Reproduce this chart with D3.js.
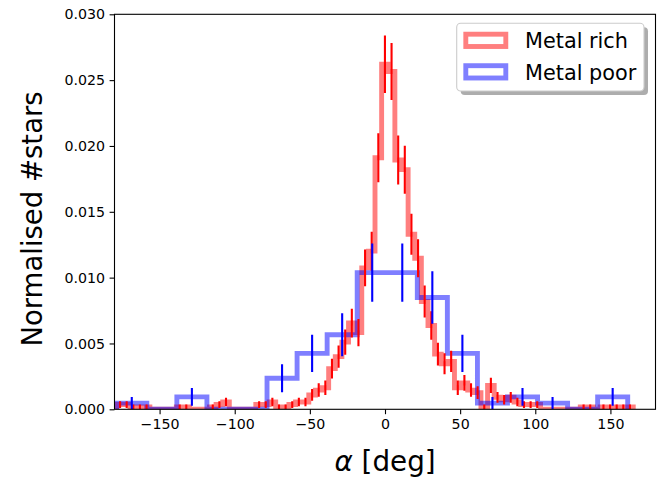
<!DOCTYPE html>
<html><head><meta charset="utf-8">
<script src="https://cdn.jsdelivr.net/npm/d3@7"></script>
<style>html,body{margin:0;padding:0;background:#fff;}svg{display:block;font-family:"DejaVu Sans",sans-serif;}</style>
</head><body>
<svg id="chart" width="670" height="479"></svg>
<script>
// ---- data ----
const redRange = [-178.5, 165.2];
const redValues = [0.00036,0.00036,0.00018,0.00018,0.00018,0,0,0,0,0.00018,0.00018,0,0,0,0.00018,0.00036,0.00055,0,0,0,0,
  0.00036,0.00036,0.00055,0.00018,0.00018,0.00036,0.00055,0.00055,0.00109,0.00146,0.00164,0.00309,0.00400,0.00510,0.00655,0.00582,0.01074,0.01201,0.01911,
  0.02621,0.02566,0.01893,0.01820,0.01329,0.01147,0.00819,0.00637,0.00419,0.00346,0.00364,0.00164,0.00200,0.00146,0.00127,0.00018,0.00182,0.00091,0.00073,0.00091,0.00055,0.00036,0.00036,0.00036,
  0,0,0,0,0,0,0.00018,0.00018,0,0.00018,0.00018,0.00018,0.00018,0.00018];
const redErrors = [0.00026,0.00026,0.00018,0.00018,0.00018,0,0,0,0,0.00018,0.00018,0,0,0,0.00018,0.00026,0.00032,0,0,0,0,
  0.00026,0.00026,0.00032,0.00018,0.00018,0.00026,0.00032,0.00032,0.00045,0.00051,0.00055,0.00075,0.00085,0.00096,0.00109,0.00103,0.00140,0.00148,0.00186,
  0.00218,0.00216,0.00186,0.00182,0.00156,0.00144,0.00122,0.00108,0.00087,0.00079,0.00081,0.00055,0.00060,0.00051,0.00048,0.00018,0.00058,0.00041,0.00036,0.00041,0.00032,0.00026,0.00026,0.00026,
  0,0,0,0,0,0,0.00018,0.00018,0,0.00018,0.00018,0.00018,0.00018,0.00018];
const blueRange = [-178.5, 161.5];
const blueValues = [0.00047,0,0.00094,0,0,0.00236,0.00425,0.00566,0.01038,0.01038,0.00849,0.00425,0.00047,0.00094,0.00047,0,0.00094];
const blueErrors = [0.00047,0,0.00067,0,0,0.00106,0.00142,0.00163,0.00221,0.00221,0.00200,0.00142,0.00047,0.00067,0.00047,0,0.00067];
const seriesNames = ["Metal rich", "Metal poor"];
const xTicks = [-150,-100,-50,0,50,100,150];
const yTicks = [0,0.005,0.010,0.015,0.020,0.025,0.030];
const xDomain = [-180, 180];
const yDomain = [0, 0.030];

// ---- layout ----
const svg = d3.select("#chart");
const L = 114.5, R = 655.5, T = 14.3, B = 409.3;
const x = d3.scaleLinear().domain(xDomain).range([L, R]);
const y = d3.scaleLinear().domain(yDomain).range([B, T]);

svg.append("defs").append("clipPath").attr("id","clip")
  .append("rect").attr("x",L).attr("y",T).attr("width",R-L).attr("height",B-T);

function edges(range, n){ const w=(range[1]-range[0])/n; return d3.range(n+1).map(i=>range[0]+i*w); }
function stepPath(range, vals){
  const e = edges(range, vals.length);
  let p = [[e[0],0]];
  vals.forEach((v,i)=>{ p.push([e[i],v]); p.push([e[i+1],v]); });
  p.push([e[vals.length],0]);
  return d3.line().x(d=>x(d[0])).y(d=>y(d[1]))(p);
}
const plot = svg.append("g").attr("clip-path","url(#clip)");
plot.append("path").attr("d", stepPath(redRange, redValues))
  .attr("fill","none").attr("stroke","#ff0000").attr("stroke-opacity",0.5).attr("stroke-width",4.9).attr("stroke-linejoin","miter");
plot.append("path").attr("d", stepPath(blueRange, blueValues))
  .attr("fill","none").attr("stroke","#0000ff").attr("stroke-opacity",0.5).attr("stroke-width",4.9).attr("stroke-linejoin","miter");

function errBars(range, vals, errs, color){
  const e = edges(range, vals.length);
  const data = vals.map((v,i)=>({c:(e[i]+e[i+1])/2, v, err:errs[i]})).filter(d=>d.err>0);
  plot.append("g").selectAll("line").data(data).join("line")
    .attr("x1",d=>x(d.c)).attr("x2",d=>x(d.c))
    .attr("y1",d=>y(d.v-d.err)).attr("y2",d=>y(d.v+d.err))
    .attr("stroke",color).attr("stroke-width",2.1);
}
errBars(redRange, redValues, redErrors, "#ff0000");
errBars(blueRange, blueValues, blueErrors, "#0000ff");

// ---- axes ----
const fmtX = d => d < 0 ? "\u2212" + Math.abs(d) : String(d);
const xAxis = svg.append("g").attr("transform",`translate(0,${B})`)
  .call(d3.axisBottom(x).tickValues(xTicks).tickFormat(fmtX).tickSizeOuter(0).tickSize(4.9).tickPadding(4.5));
const yAxis = svg.append("g").attr("transform",`translate(${L},0)`)
  .call(d3.axisLeft(y).tickValues(yTicks).tickFormat(d3.format(".3f")).tickSizeOuter(0).tickSize(4.9).tickPadding(4.5));
[xAxis,yAxis].forEach(a=>{
  a.select(".domain").remove();
  a.selectAll(".tick line").attr("stroke","#000").attr("stroke-width",1.1);
  a.selectAll(".tick text").attr("fill","#000").style("font-size","14.2px").style("font-family","DejaVu Sans");
});
xAxis.selectAll(".tick text").attr("dy","0.75em");
svg.append("rect").attr("x",L).attr("y",T).attr("width",R-L).attr("height",B-T)
  .attr("fill","none").attr("stroke","#000").attr("stroke-width",1.1);

// labels
svg.append("text").attr("x",(L+R)/2).attr("y",471).attr("text-anchor","middle")
  .style("font-size","27.8px").html('<tspan font-style="italic">α</tspan> [deg]');
svg.append("text").attr("transform",`translate(42,219) rotate(-90)`).attr("text-anchor","middle")
  .style("font-size","27.5px").text("Normalised #stars");

// ---- legend ----
const lg = svg.append("g");
const lx = 456.7, ly = 23.3, lw = 187.3, lh = 67.7;
lg.append("rect").attr("x",lx+4).attr("y",ly+4).attr("width",lw).attr("height",lh).attr("rx",4)
  .attr("fill","#000").attr("fill-opacity",0.32);
lg.append("rect").attr("x",lx).attr("y",ly).attr("width",lw).attr("height",lh).attr("rx",4)
  .attr("fill","#fff").attr("stroke","#cccccc").attr("stroke-width",1.1);
const legColors = ["#ff0000","#0000ff"];
seriesNames.forEach((name,i)=>{
  const yy = 34.2 + i*31.5;
  lg.append("rect").attr("x",465.8).attr("y",yy).attr("width",40).attr("height",12.3)
    .attr("fill","none").attr("stroke",legColors[i]).attr("stroke-opacity",0.5).attr("stroke-width",4.9);
  lg.append("text").attr("x",525).attr("y",48.3 + i*31.2).style("font-size","20.8px").text(name);
});
</script>
</body></html>
